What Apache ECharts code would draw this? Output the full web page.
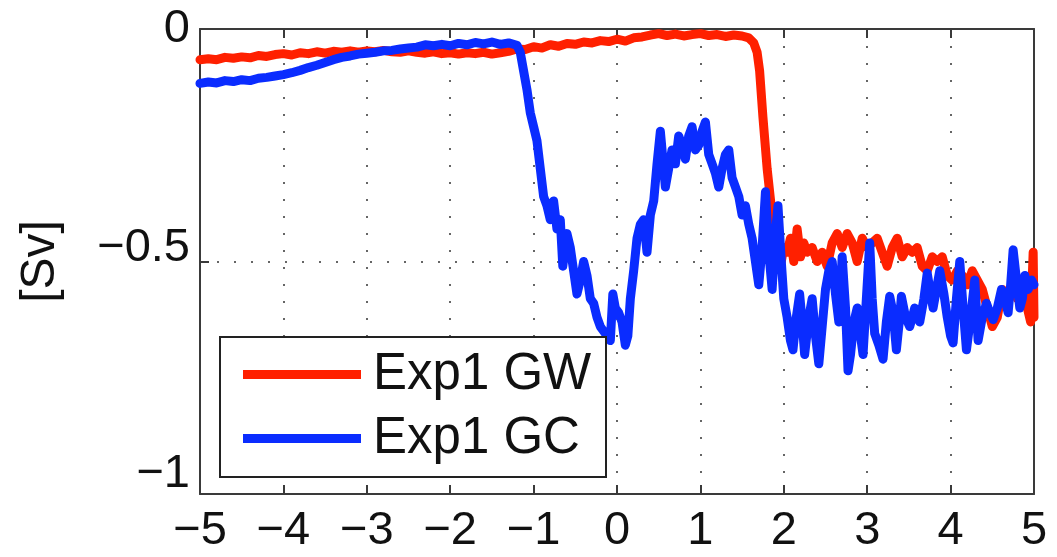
<!DOCTYPE html>
<html>
<head>
<meta charset="utf-8">
<script src="https://cdn.jsdelivr.net/npm/echarts@6/dist/echarts.min.js"></script>
<style>
  html, body { margin: 0; padding: 0; background: #fff; }
  #chart { width: 1057px; height: 557px; }
</style>
</head>
<body>
<div id="chart"></div>
<script>
// Transport [Sv] along the section, two experiments
const seriesNames = ['Exp1 GW', 'Exp1 GC'];

const xGW = [
  -5.0, -4.9, -4.8, -4.7, -4.6, -4.5, -4.4, -4.3, -4.2, -4.1,
  -4.0, -3.9, -3.8, -3.7, -3.6, -3.5, -3.4, -3.3, -3.2, -3.1,
  -3.0, -2.9, -2.8, -2.7, -2.6, -2.5, -2.4, -2.3, -2.2, -2.1,
  -2.0, -1.9, -1.8, -1.7, -1.6, -1.5, -1.4, -1.3, -1.2, -1.1,
  -1.0, -0.9, -0.8, -0.7, -0.6, -0.5, -0.4, -0.3, -0.2, -0.1,
  0.0, 0.1, 0.2, 0.3, 0.4, 0.5, 0.6, 0.7, 0.8, 0.9,
  1.0, 1.1, 1.2, 1.3, 1.4, 1.5, 1.58, 1.64, 1.68, 1.71,
  1.75, 1.80, 1.83, 1.86, 1.90, 1.94, 1.97, 2.00, 2.04, 2.08,
  2.12, 2.16, 2.20, 2.24, 2.28, 2.34, 2.40, 2.46, 2.52, 2.58,
  2.64, 2.70, 2.76, 2.82, 2.88, 2.94, 3.00, 3.06, 3.12, 3.18,
  3.24, 3.30, 3.36, 3.42, 3.48, 3.54, 3.60, 3.66, 3.72, 3.78,
  3.84, 3.90, 3.96, 4.02, 4.08, 4.14, 4.20, 4.26, 4.32, 4.38,
  4.44, 4.50, 4.56, 4.62, 4.68, 4.74, 4.80, 4.86, 4.92, 4.96,
  4.99, 5.00
];
const yGW = [
  -0.066, -0.064, -0.066, -0.061, -0.063, -0.060, -0.062, -0.057, -0.059, -0.055,
  -0.053, -0.056, -0.051, -0.053, -0.049, -0.052, -0.048, -0.050, -0.047, -0.050,
  -0.047, -0.049, -0.046, -0.049, -0.050, -0.047, -0.050, -0.052, -0.049, -0.053,
  -0.051, -0.054, -0.051, -0.053, -0.050, -0.054, -0.051, -0.048, -0.043, -0.044,
  -0.038, -0.041, -0.034, -0.037, -0.031, -0.033, -0.028, -0.030, -0.025, -0.027,
  -0.022, -0.026, -0.019, -0.017, -0.013, -0.010, -0.014, -0.011, -0.015, -0.012,
  -0.010, -0.014, -0.012, -0.016, -0.013, -0.015, -0.019, -0.030, -0.050, -0.090,
  -0.190, -0.300, -0.350, -0.400, -0.440, -0.470, -0.500, -0.470, -0.480, -0.450,
  -0.500, -0.430, -0.490, -0.460, -0.480, -0.470, -0.500, -0.480, -0.510, -0.460,
  -0.440, -0.470, -0.440, -0.460, -0.500, -0.450, -0.470, -0.460, -0.450, -0.480,
  -0.510, -0.470, -0.450, -0.490, -0.470, -0.480, -0.470, -0.510, -0.520, -0.490,
  -0.500, -0.490, -0.530, -0.540, -0.520, -0.530, -0.550, -0.520, -0.540, -0.560,
  -0.600, -0.640, -0.620, -0.560, -0.580, -0.550, -0.580, -0.560, -0.600, -0.630,
  -0.480, -0.620
];

const xGC = [
  -5.0, -4.9, -4.8, -4.7, -4.6, -4.5, -4.4, -4.3, -4.2, -4.1,
  -4.0, -3.9, -3.8, -3.7, -3.6, -3.5, -3.4, -3.3, -3.2, -3.1,
  -3.0, -2.9, -2.8, -2.7, -2.6, -2.5, -2.4, -2.3, -2.2, -2.1,
  -2.0, -1.9, -1.8, -1.7, -1.6, -1.5, -1.4, -1.3, -1.2, -1.16,
  -1.12, -1.08, -1.04, -1.00, -0.96, -0.92, -0.88, -0.84, -0.80, -0.76,
  -0.72, -0.68, -0.65, -0.60, -0.56, -0.52, -0.48, -0.44, -0.40, -0.36,
  -0.32, -0.28, -0.24, -0.20, -0.16, -0.12, -0.08, -0.05, -0.02, 0.02,
  0.06, 0.10, 0.13, 0.16, 0.20, 0.24, 0.28, 0.32, 0.36, 0.40,
  0.44, 0.48, 0.52, 0.55, 0.58, 0.62, 0.66, 0.70, 0.74, 0.78,
  0.82, 0.86, 0.90, 0.94, 0.98, 1.02, 1.06, 1.10, 1.14, 1.18,
  1.22, 1.26, 1.30, 1.34, 1.38, 1.42, 1.46, 1.50, 1.54, 1.58,
  1.62, 1.66, 1.70, 1.74, 1.78, 1.82, 1.86, 1.90, 1.93, 1.97,
  2.00, 2.04, 2.08, 2.11, 2.15, 2.19, 2.22, 2.25, 2.30, 2.34,
  2.38, 2.42, 2.46, 2.50, 2.54, 2.58, 2.62, 2.66, 2.70, 2.74,
  2.77, 2.80, 2.84, 2.88, 2.92, 2.95, 2.99, 3.03, 3.06, 3.09,
  3.14, 3.19, 3.23, 3.27, 3.31, 3.35, 3.39, 3.41, 3.46, 3.51,
  3.57, 3.63, 3.68, 3.72, 3.76, 3.79, 3.83, 3.87, 3.92, 3.96,
  4.00, 4.03, 4.07, 4.11, 4.15, 4.19, 4.24, 4.29, 4.33, 4.38,
  4.43, 4.47, 4.51, 4.56, 4.61, 4.65, 4.69, 4.72, 4.75, 4.79,
  4.83, 4.86, 4.89, 4.93, 4.97, 5.00
];
const yGC = [
  -0.117, -0.114, -0.116, -0.111, -0.113, -0.109, -0.111, -0.106, -0.104, -0.101,
  -0.098, -0.094, -0.089, -0.083, -0.078, -0.072, -0.066, -0.061, -0.058, -0.054,
  -0.052, -0.050, -0.047, -0.046, -0.043, -0.041, -0.039, -0.034, -0.036, -0.033,
  -0.036, -0.031, -0.034, -0.029, -0.032, -0.028, -0.033, -0.030, -0.035, -0.050,
  -0.090, -0.130, -0.180, -0.210, -0.240, -0.300, -0.360, -0.380, -0.410, -0.370,
  -0.430, -0.410, -0.510, -0.440, -0.470, -0.520, -0.570, -0.540, -0.500, -0.530,
  -0.580, -0.590, -0.620, -0.640, -0.650, -0.660, -0.670, -0.570, -0.600, -0.610,
  -0.630, -0.680, -0.660, -0.580, -0.520, -0.450, -0.420, -0.410, -0.480, -0.400,
  -0.370, -0.290, -0.220, -0.280, -0.340, -0.300, -0.260, -0.290, -0.230, -0.250,
  -0.280, -0.230, -0.210, -0.260, -0.250, -0.220, -0.200, -0.270, -0.290, -0.310,
  -0.340, -0.300, -0.270, -0.260, -0.320, -0.340, -0.360, -0.400, -0.380, -0.420,
  -0.450, -0.500, -0.550, -0.470, -0.350, -0.480, -0.560, -0.440, -0.380, -0.500,
  -0.580, -0.620, -0.670, -0.690, -0.620, -0.570, -0.630, -0.700, -0.620, -0.580,
  -0.660, -0.720, -0.640, -0.560, -0.520, -0.500, -0.570, -0.630, -0.490, -0.600,
  -0.735, -0.700, -0.630, -0.600, -0.660, -0.700, -0.580, -0.460, -0.580, -0.655,
  -0.680, -0.710, -0.630, -0.575, -0.610, -0.690, -0.620, -0.575, -0.620, -0.640,
  -0.600, -0.630, -0.580, -0.525, -0.570, -0.600, -0.560, -0.520, -0.570, -0.620,
  -0.660, -0.675, -0.580, -0.500, -0.600, -0.690, -0.620, -0.540, -0.670, -0.620,
  -0.590, -0.610, -0.625, -0.600, -0.560, -0.580, -0.610, -0.550, -0.475, -0.540,
  -0.600, -0.580, -0.530, -0.560, -0.540, -0.550
];

const xTicks = [-5, -4, -3, -2, -1, 0, 1, 2, 3, 4, 5];
const yTicks = [-1, -0.5, 0];
const yLabel = '[Sv]';

const FONT = '"Liberation Sans", Arial, Helvetica, sans-serif';
const FRAME = '#3a3a3a';
const minus = v => String(v).replace('-', '\u2212');
const pairs = (xs, ys) => xs.map((x, i) => [x, ys[i]]);

// y tick labels sit a little above their ticks, more so towards the bottom
const yLabelFmt = v => {
  const key = v === 0 ? 't0' : (v === -0.5 ? 't1' : 't2');
  return '{' + key + '|' + minus(v) + '}';
};
const yRich = {
  t0: { fontSize: 47, color: '#111', fontFamily: FONT, padding: [0, 0, 0, 0] },
  t1: { fontSize: 47, color: '#111', fontFamily: FONT, padding: [0, 0, 26, 0] },
  t2: { fontSize: 47, color: '#111', fontFamily: FONT, padding: [0, 0, 40, 0] }
};

const chart = echarts.init(document.getElementById('chart'), null, { renderer: 'canvas' });

const gridDots = { show: true, lineStyle: { color: '#666', width: 2, type: [2, 15] } };
const frameLine = { show: true, onZero: false, lineStyle: { color: FRAME, width: 2 } };
const innerTicks = { show: true, inside: true, length: 9, lineStyle: { color: FRAME, width: 2 } };

chart.setOption({
  animation: false,
  backgroundColor: '#fff',
  textStyle: { fontFamily: FONT },
  grid: { left: 200, right: 23, top: 29, bottom: 63, containLabel: false, outerBoundsMode: 'none' },
  legend: {
    data: seriesNames,
    orient: 'vertical',
    left: 220,
    top: 337,
    icon: 'rect',
    itemWidth: 118,
    itemHeight: 9,
    itemGap: 13,
    padding: [12, 13, 13, 23],
    borderColor: '#222',
    borderWidth: 2,
    backgroundColor: '#fff',
    textStyle: {
      fontFamily: FONT, fontSize: 51, color: '#111',
      lineHeight: 50, width: 220, padding: [0, 0, 0, 7]
    }
  },
  xAxis: [
    {
      type: 'value', min: xTicks[0], max: xTicks[xTicks.length - 1], interval: 1,
      position: 'bottom',
      axisLine: frameLine, axisTick: innerTicks, splitLine: gridDots,
      axisLabel: { formatter: minus, fontSize: 47, color: '#111', margin: 14, fontFamily: FONT }
    },
    {
      type: 'value', min: xTicks[0], max: xTicks[xTicks.length - 1], interval: 1,
      position: 'top',
      axisLine: frameLine, axisTick: innerTicks, splitLine: { show: false },
      axisLabel: { show: false }
    }
  ],
  yAxis: [
    {
      type: 'value', min: yTicks[0], max: yTicks[yTicks.length - 1], interval: 0.5,
      position: 'left',
      name: yLabel, nameLocation: 'middle', nameRotate: 90, nameGap: 135,
      nameTextStyle: { fontSize: 48, color: '#111', fontFamily: FONT },
      axisLine: frameLine, axisTick: innerTicks, splitLine: gridDots,
      axisLabel: { formatter: yLabelFmt, rich: yRich, margin: 10 }
    },
    {
      type: 'value', min: yTicks[0], max: yTicks[yTicks.length - 1], interval: 0.5,
      position: 'right',
      axisLine: frameLine, axisTick: innerTicks, splitLine: { show: false },
      axisLabel: { show: false }
    }
  ],
  series: [
    {
      name: seriesNames[0], type: 'line', showSymbol: false, symbol: 'none',
      data: pairs(xGW, yGW),
      lineStyle: { color: '#ff2000', width: 9, join: 'round', cap: 'round' },
      itemStyle: { color: '#ff2000' }, z: 2
    },
    {
      name: seriesNames[1], type: 'line', showSymbol: false, symbol: 'none',
      data: pairs(xGC, yGC),
      lineStyle: { color: '#0a2cff', width: 9, join: 'round', cap: 'round' },
      itemStyle: { color: '#0a2cff' }, z: 3
    }
  ]
});
</script>
</body>
</html>
